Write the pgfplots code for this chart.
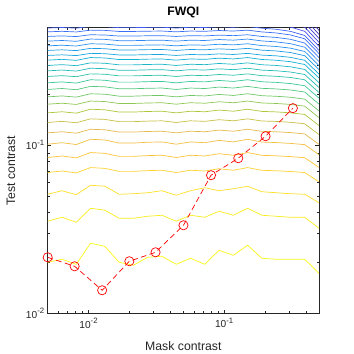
\documentclass[border=0pt]{standalone}
\usepackage{pgfplots}
\pgfplotsset{compat=1.18}
\usepackage{pgfplotstable}
\usepackage{fontspec}
\setmainfont{Liberation Sans}

\definecolor{P0}{rgb}{0.2422,0.1504,0.6603}
\definecolor{P1}{rgb}{0.2810,0.3228,0.9579}
\definecolor{P2}{rgb}{0.1786,0.5289,0.9682}
\definecolor{P3}{rgb}{0.0689,0.6948,0.8394}
\definecolor{P4}{rgb}{0.2161,0.7843,0.5923}
\definecolor{P5}{rgb}{0.6720,0.7793,0.2227}
\definecolor{P6}{rgb}{0.9970,0.7659,0.2199}
\definecolor{P7}{rgb}{0.9769,0.9839,0.0805}
\definecolor{P56}{rgb}{0.9000,0.7300,0.3000}
\colorlet{c1}{P7}\colorlet{c2}{P7!75!P6}\colorlet{c3}{P7!50!P6}\colorlet{c4}{P7!25!P6}
\colorlet{c5}{P6}\colorlet{c6}{P6!50!P56}\colorlet{c7}{P56}\colorlet{c8}{P56!50!P5}
\colorlet{c9}{P5}\colorlet{c10}{P5!75!P4}\colorlet{c11}{P5!50!P4}\colorlet{c12}{P5!25!P4}
\colorlet{c13}{P4}\colorlet{c14}{P4!75!P3}\colorlet{c15}{P4!50!P3}\colorlet{c16}{P4!25!P3}
\colorlet{c17}{P3}\colorlet{c18}{P3!75!P2}\colorlet{c19}{P3!50!P2}\colorlet{c20}{P3!25!P2}
\colorlet{c21}{P2}\colorlet{c22}{P2!75!P1}\colorlet{c23}{P2!50!P1}\colorlet{c24}{P2!25!P1}
\colorlet{c25}{P1}\colorlet{c26}{P1!75!P0}\colorlet{c27}{P1!50!P0}\colorlet{c28}{P1!25!P0}
\colorlet{c29}{P0}

\pgfplotstableread{
x a1 a2 a3 a4 a5 a6 a7 a8 a9 a10 a11 a12 a13 a14 a15 a16 a17 a18 a19 a20 a21 a22 a23 a24
0.005 0.02012 0.03529 0.05109 0.06879 0.08449 0.1014 0.1184 0.1365 0.1557 0.1754 0.1939 0.2146 0.2349 0.2564 0.2769 0.2981 0.3206 0.3419 0.3662 0.3900 0.4160 0.4436 0.4725 0.4978
0.006372 0.02096 0.03728 0.05360 0.07023 0.08627 0.1035 0.1202 0.1386 0.1581 0.1777 0.1964 0.2174 0.2380 0.2592 0.2799 0.3014 0.3241 0.3449 0.3694 0.3934 0.4196 0.4468 0.4759 0.5013
0.008119 0.01957 0.03481 0.05074 0.06843 0.08405 0.1009 0.1179 0.1360 0.1551 0.1748 0.1932 0.2139 0.2341 0.2557 0.2761 0.2973 0.3197 0.3412 0.3654 0.3892 0.4150 0.4428 0.4717 0.4969
0.01035 0.02610 0.04217 0.05780 0.07361 0.09041 0.1085 0.1244 0.1435 0.1637 0.1831 0.2023 0.2239 0.2451 0.2657 0.2869 0.3089 0.3322 0.3518 0.3768 0.4013 0.4280 0.4540 0.4836 0.5094
0.01318 0.02505 0.04103 0.05701 0.07284 0.08947 0.1074 0.1235 0.1424 0.1624 0.1819 0.2010 0.2225 0.2435 0.2643 0.2853 0.3073 0.3304 0.3503 0.3751 0.3995 0.4261 0.4524 0.4819 0.5076
0.01680 0.02012 0.03677 0.05109 0.06987 0.08582 0.1030 0.1197 0.1381 0.1575 0.1771 0.1958 0.2167 0.2372 0.2585 0.2792 0.3006 0.3232 0.3442 0.3686 0.3926 0.4187 0.4460 0.4750 0.5004
0.02141 0.01931 0.03677 0.05144 0.06987 0.08582 0.1030 0.1197 0.1381 0.1575 0.1771 0.1958 0.2167 0.2372 0.2585 0.2792 0.3006 0.3232 0.3442 0.3686 0.3926 0.4187 0.4460 0.4750 0.5004
0.02728 0.02154 0.03779 0.05215 0.07060 0.08672 0.1041 0.1207 0.1391 0.1587 0.1783 0.1971 0.2181 0.2388 0.2599 0.2807 0.3022 0.3250 0.3457 0.3702 0.3943 0.4205 0.4476 0.4767 0.5022
0.03476 0.02184 0.03831 0.05360 0.07097 0.08717 0.1046 0.1211 0.1397 0.1593 0.1789 0.1977 0.2188 0.2396 0.2607 0.2815 0.3031 0.3259 0.3465 0.3710 0.3952 0.4215 0.4484 0.4776 0.5031
0.04429 0.01957 0.03529 0.05039 0.06879 0.08449 0.1014 0.1184 0.1365 0.1557 0.1754 0.1939 0.2146 0.2349 0.2564 0.2769 0.2981 0.3206 0.3419 0.3662 0.3900 0.4160 0.4436 0.4725 0.4978
0.05644 0.02125 0.03831 0.05360 0.07097 0.08717 0.1046 0.1211 0.1397 0.1593 0.1789 0.1977 0.2188 0.2396 0.2607 0.2815 0.3031 0.3259 0.3465 0.3710 0.3952 0.4215 0.4484 0.4776 0.5031
0.07192 0.01957 0.03728 0.05585 0.07023 0.08627 0.1035 0.1202 0.1386 0.1581 0.1777 0.1964 0.2174 0.2380 0.2592 0.2799 0.3014 0.3241 0.3449 0.3694 0.3934 0.4196 0.4468 0.4759 0.5013
0.09165 0.02371 0.04047 0.05360 0.07246 0.08900 0.1068 0.1230 0.1418 0.1618 0.1813 0.2004 0.2217 0.2427 0.2635 0.2846 0.3064 0.3295 0.3495 0.3743 0.3987 0.4252 0.4516 0.4810 0.5067
0.1168 0.02214 0.03831 0.05509 0.07097 0.08717 0.1046 0.1211 0.1397 0.1593 0.1789 0.1977 0.2188 0.2396 0.2607 0.2815 0.3031 0.3259 0.3465 0.3710 0.3952 0.4215 0.4484 0.4776 0.5031
0.1488 0.02540 0.04217 0.05701 0.07361 0.09041 0.1085 0.1244 0.1435 0.1637 0.1831 0.2023 0.2239 0.2451 0.2657 0.2869 0.3089 0.3322 0.3518 0.3768 0.4013 0.4280 0.4540 0.4836 0.5094
0.1896 0.02125 0.03831 0.05287 0.07090 0.08705 0.1044 0.1209 0.1393 0.1589 0.1783 0.1970 0.2179 0.2384 0.2592 0.2797 0.3010 0.3235 0.3436 0.3677 0.3914 0.4171 0.4434 0.4719 0.4967
0.2416 0.02096 0.03779 0.05215 0.07046 0.08648 0.1037 0.1202 0.1385 0.1578 0.1771 0.1955 0.2162 0.2364 0.2571 0.2772 0.2982 0.3202 0.3401 0.3637 0.3868 0.4119 0.4377 0.4654 0.4894
0.3079 0.02096 0.03728 0.05144 0.06977 0.08558 0.1025 0.1189 0.1369 0.1558 0.1749 0.1929 0.2131 0.2327 0.2529 0.2725 0.2927 0.3139 0.3332 0.3558 0.3779 0.4018 0.4266 0.4529 0.4756
0.3924 0.02096 0.03728 0.05109 0.06878 0.08424 0.1008 0.1167 0.1341 0.1524 0.1707 0.1880 0.2072 0.2259 0.2450 0.2634 0.2823 0.3021 0.3199 0.3408 0.3611 0.3830 0.4055 0.4294 0.4496
0.5 0.01730 0.03206 0.04547 0.06057 0.07379 0.08782 0.1011 0.1157 0.1309 0.1459 0.1599 0.1756 0.1906 0.2059 0.2205 0.2355 0.2512 0.2651 0.2816 0.2975 0.3147 0.3323 0.3510 0.3668
}\contours

\newcommand{\tl}[1]{10\raisebox{0.42em}{\fontsize{7.8}{8}\selectfont #1}}
\pgfplotsset{cont/.style={line width=0.7bp, mark=none}}

\begin{document}
\begin{tikzpicture}
\path[use as bounding box] (-47.7bp,-40.7bp) rectangle (306.3bp,313.3bp);
\begin{axis}[
  at={(0,0)}, anchor=south west, scale only axis,
  width=271.3bp, height=285.6bp,
  xmode=log, ymode=log,
  xmin=0.005, xmax=0.5, ymin=0.01, ymax=0.5,
  xtick={0.01,0.1}, xticklabels={\tl{-2},\tl{-1}},
  ytick={0.01,0.1}, yticklabels={\tl{-2},\tl{-1}},
  minor xtick={0.006,0.007,0.008,0.009,0.02,0.03,0.04,0.05,0.06,0.07,0.08,0.09,0.2,0.3,0.4},
  minor ytick={0.02,0.03,0.04,0.05,0.06,0.07,0.08,0.09,0.2,0.3,0.4},
  tick label style={font=\fontsize{10.2}{12}\selectfont, text=black!85},
  xticklabel style={yshift=-1.5bp},
  major tick length=3.5bp, minor tick length=2bp,
  tick style={black!85, line width=0.5bp},
  axis line style={black!85, line width=0.6bp},
  xlabel={Mask contrast}, ylabel={Test contrast},
  xlabel style={at={(axis description cs:0.5,-0.1145)}, anchor=center, font=\fontsize{12.3}{14}\selectfont, text=black!85},
  ylabel style={at={(axis description cs:-0.1353,0.5)}, anchor=center, font=\fontsize{12.3}{14}\selectfont, text=black!85},
  title={FWQI},
  title style={at={(axis description cs:0.5,1.031)}, anchor=center, font=\bfseries\fontsize{12.3}{14}\selectfont},
]
\pgfplotsinvokeforeach{1,2,3,4,5,6,7,8,9,10,11,12,13,14,15,16,17,18,19,20,21,22,23,24}{
  \addplot[cont, color=c#1] table[x=x, y=a#1] {\contours};
}
\addplot[cont, color=c25] coordinates {(0.1168,0.5359) (0.1488,0.5426) (0.1896,0.5285) (0.2416,0.5203) (0.3079,0.5048) (0.3924,0.4759) (0.5,0.3875)};
\addplot[cont, color=c26] coordinates {(0.1168,0.5707) (0.1488,0.5779) (0.1896,0.5623) (0.2416,0.5532) (0.3079,0.5358) (0.3924,0.5037) (0.5,0.4093)};
\addplot[cont, color=c27] coordinates {(0.1168,0.6079) (0.1488,0.6155) (0.1896,0.5984) (0.2416,0.5880) (0.3079,0.5686) (0.3924,0.5330) (0.5,0.4324)};
\addplot[cont, color=c28] coordinates {(0.1168,0.6474) (0.1488,0.6556) (0.1896,0.6367) (0.2416,0.6251) (0.3079,0.6034) (0.3924,0.5639) (0.5,0.4567)};
\addplot[cont, color=c29] coordinates {(0.1168,0.6896) (0.1488,0.6982) (0.1896,0.6775) (0.2416,0.6644) (0.3079,0.6402) (0.3924,0.5965) (0.5,0.4825)};

\addplot[red, line width=0.7bp, dash pattern=on 5.5bp off 3.5bp, mark=o, mark size=4.6bp, mark options={solid, line width=0.7bp}] coordinates {
(0.005,0.02154) (0.0079,0.01904) (0.0126,0.01371) (0.0200,0.02040) (0.0312,0.02307)
(0.0501,0.03340) (0.0800,0.06629) (0.127,0.08368) (0.202,0.1131) (0.321,0.1661)
};
\end{axis}
\end{tikzpicture}
\end{document}
